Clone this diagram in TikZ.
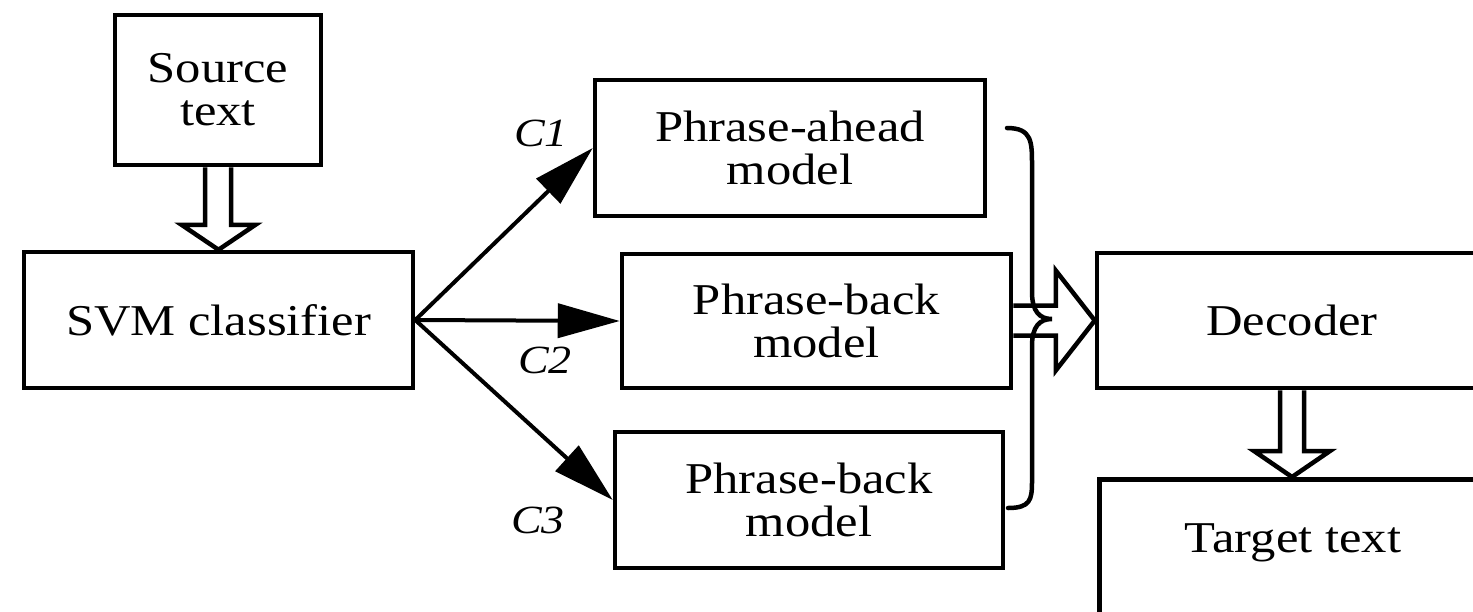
\documentclass[tikz,border=0pt]{standalone}
\usepackage{fontspec}
\setmainfont{Liberation Serif}[FakeStretch=1.15]
\usetikzlibrary{arrows.meta,calc}
\begin{document}
\begin{tikzpicture}[x=1pt,y=-1pt,
  box/.style={draw,line width=4.5pt,rectangle,inner sep=0pt,align=center,
    font=\fontsize{44}{43}\selectfont},
  lbl/.style={inner sep=0pt,font=\fontsize{40}{40}\selectfont\itshape},
  txt/.style={inner sep=0pt,font=\fontsize{44}{43}\selectfont},
  hollow/.style={draw,line width=4.5pt,line join=miter},
  choice/.style={line width=4pt,-{Triangle[length=62pt,width=34pt]}},
  bracepath/.style={line width=4.5pt,line cap=round}]
\useasboundingbox (0,0) rectangle (1473,611);
\clip (0,0) rectangle (1473,611);
% boxes
\node[box,minimum width=206pt,minimum height=150pt] (src) at (218,90) {Source\\text};
\node[box,minimum width=389pt,minimum height=136pt] (svm) at (218.5,320) {SVM classifier};
\node[box,minimum width=390pt,minimum height=136pt] (b1) at (790,148) {Phrase-ahead\\model};
\node[box,minimum width=389pt,minimum height=134pt] (b2) at (816.5,321) {Phrase-back\\model};
\node[box,minimum width=388pt,minimum height=136pt] (b3) at (809,500) {Phrase-back\\model};
\node[box,minimum width=390pt,minimum height=135pt] (dec) at (1292,320.5) {Decoder};
\node[box,minimum width=392pt,minimum height=170pt,anchor=north west] (tgt) at (1097,477) {};
\node[txt] (tgtlabel) at (1293,543) {Target text};
% hollow arrow source -> svm
\draw[hollow] ($(src.south)+(-13,0)$) |- ($(svm.north)+(-37,-25)$) -- (svm.north)
  -- ($(svm.north)+(37,-25)$) -| ($(src.south)+(13,0)$);
% hollow arrow decoder -> target
\coordinate (dtip) at (dec.south |- tgt.north);
\draw[hollow] ($(dec.south)+(-12,0)$) |- ($(dtip)+(-38,-26)$) -- (dtip)
  -- ($(dtip)+(38,-26)$) -| ($(dec.south)+(12,0)$);
% hollow arrow brace -> decoder
\coordinate (bs) at (b2.east |- dec.west);
\draw[hollow] ($(bs)+(0,-15)$) -| ($(dec.west)+(-39,-50)$) -- (dec.west)
  -- ($(dec.west)+(-39,50)$) |- ($(bs)+(0,15)$);
% brace
\coordinate (bt) at (1007,128);
\coordinate (btip) at (1052,319);
\coordinate (bb) at (1008,508);
\draw[bracepath] (bt) .. controls (1032,128) and (1032,142) .. (1032,165)
  -- (1032,292) .. controls (1032,312) and (1040,319) .. (btip)
  .. controls (1040,319) and (1032,326) .. (1032,346)
  -- (1032,482) .. controls (1032,500) and (1030,508) .. (bb);
% classifier arrows
\draw[choice] (svm.east) -- (b1.west);
\draw[choice] (svm.east) -- (b2.west);
\draw[choice] (svm.east) -- (b3.west);
\node[lbl] (c1) at (541,133) {C1};
\node[lbl] (c2) at (545,360) {C2};
\node[lbl] (c3) at (538,520) {C3};
\end{tikzpicture}
\end{document}
